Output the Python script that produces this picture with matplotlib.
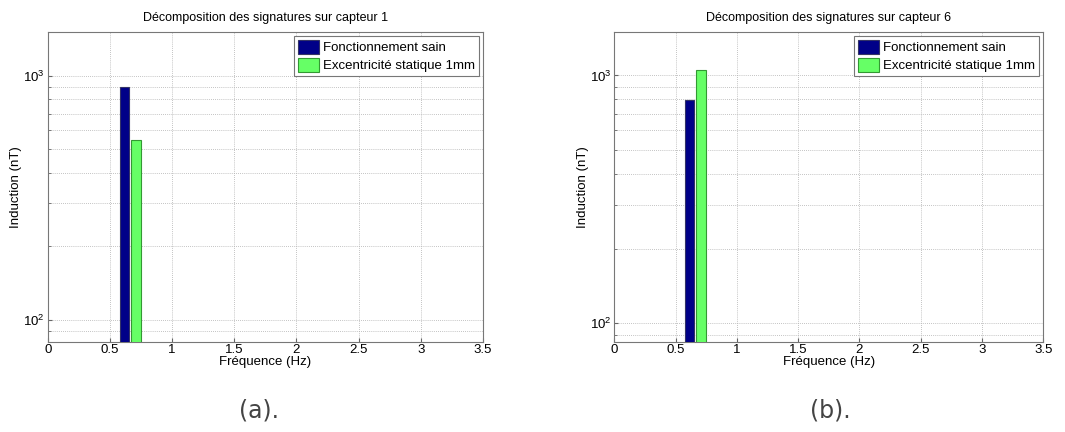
import matplotlib
matplotlib.use('Agg')
import matplotlib.pyplot as plt
from matplotlib.ticker import LogLocator, NullFormatter

plt.rcParams['font.family'] = ['Liberation Sans', 'DejaVu Sans']

titles = ['Décomposition des signatures sur capteur 1',
          'Décomposition des signatures sur capteur 6']
captions = ['(a).', '(b).']
series = ['Fonctionnement sain', 'Excentricité statique 1mm']
colors = ['#000088', '#66ff66']
edges = ['#333366', '#339933']

# bar centres (Hz) and heights (nT) for each sensor
freq_sain = [0.615, 0.615]
freq_exc = [0.71, 0.708]
sain = [900, 793]
excentricite = [544, 1051]
xticks = [0, 0.5, 1, 1.5, 2, 2.5, 3, 3.5]
ylims = [(81.5, 1510), (84.3, 1497)]

fig = plt.figure(figsize=(10.65, 4.32), dpi=100)
positions = [[0.0448, 0.209, 0.4087, 0.717], [0.5768, 0.209, 0.4028, 0.717]]
cap_x = [0.243, 0.78]

for i in range(2):
    ax = fig.add_axes(positions[i])
    ax.bar(freq_sain[i], sain[i], width=0.075, color=colors[0],
           edgecolor=edges[0], linewidth=0.8, label=series[0], zorder=3)
    ax.bar(freq_exc[i], excentricite[i], width=0.075, color=colors[1],
           edgecolor=edges[1], linewidth=0.8, label=series[1], zorder=3)
    ax.set_yscale('log')
    ax.set_ylim(*ylims[i])
    ax.set_xlim(0, 3.5)
    ax.set_xticks(xticks)
    ax.set_xticklabels([f'{t:g}' for t in xticks])
    ax.yaxis.set_minor_locator(LogLocator(base=10, subs=range(2, 10)))
    ax.yaxis.set_minor_formatter(NullFormatter())
    ax.grid(True, which='major', linestyle=(0, (1, 1.5)), color='#b0b0b0', linewidth=0.6)
    ax.grid(True, which='minor', axis='y', linestyle=(0, (1, 1.5)), color='#b0b0b0', linewidth=0.6)
    ax.set_axisbelow(True)
    ax.tick_params(direction='in', labelsize=9.5, length=3, color='#666666', pad=2)
    ax.tick_params(which='minor', direction='in', length=2, color='#666666')
    for sp in ax.spines.values():
        sp.set_color('#777777')
        sp.set_linewidth(0.8)
    ax.set_title(titles[i], fontsize=9, pad=8)
    ax.set_xlabel('Fréquence (Hz)', fontsize=9.5, labelpad=0)
    ax.set_ylabel('Induction (nT)', fontsize=9.5, labelpad=1)
    leg = ax.legend(loc='upper right', fontsize=9.5, fancybox=False,
                    framealpha=1, edgecolor='#777777', borderaxespad=0.3,
                    handlelength=1.6, handleheight=1.3, handletextpad=0.3,
                    labelspacing=0.25, borderpad=0.3)
    leg.get_frame().set_linewidth(0.8)
    fig.text(cap_x[i], 0.05, captions[i], ha='center', va='center',
             fontsize=17, color='#444444', family='DejaVu Sans')

fig.savefig('out.png', dpi=100)
